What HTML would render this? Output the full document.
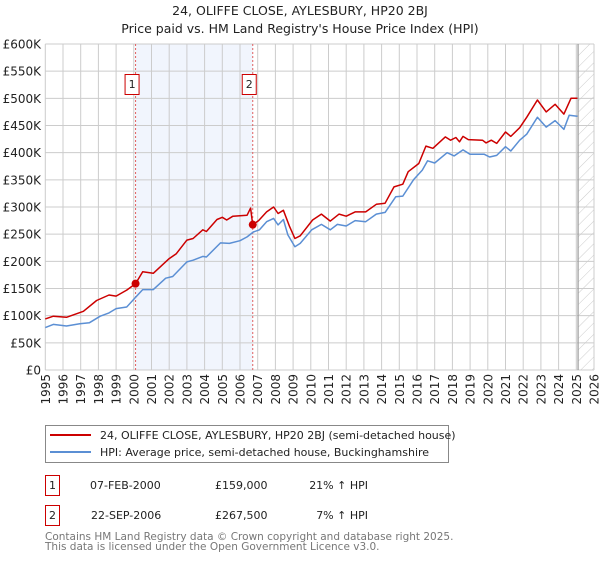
<!DOCTYPE html>
<html><head><meta charset="utf-8"><style>
body{margin:0;background:#fff;font-family:"Liberation Sans","DejaVu Sans",sans-serif;}
svg text{font-family:"DejaVu Sans","Liberation Sans",sans-serif;}
</style></head><body>
<svg id="chart" width="600" height="560" viewBox="0 0 600 560" xmlns="http://www.w3.org/2000/svg">
<text x="300" y="15" text-anchor="middle" font-size="12.5" fill="#222">24, OLIFFE CLOSE, AYLESBURY, HP20 2BJ</text>
<text x="300" y="33" text-anchor="middle" font-size="12.5" fill="#222">Price paid vs. HM Land Registry's House Price Index (HPI)</text>
<defs><pattern id="hatch" patternUnits="userSpaceOnUse" width="8" height="8" patternTransform="rotate(45)"><line x1="0" y1="0" x2="0" y2="8" stroke="#ccc" stroke-width="1"/></pattern></defs>
<g id="grid"></g>
<g id="marks"></g>
<g id="axes"></g>
<rect x="45.5" y="425.5" width="403" height="37" fill="#fff" stroke="#888"/>
<line x1="50" y1="435" x2="91" y2="435" stroke="#cc0000" stroke-width="2"/>
<text x="100" y="439" font-size="11" fill="#222">24, OLIFFE CLOSE, AYLESBURY, HP20 2BJ (semi-detached house)</text>
<line x1="50" y1="452" x2="91" y2="452" stroke="#5b8fd4" stroke-width="2"/>
<text x="100" y="456" font-size="11" fill="#222">HPI: Average price, semi-detached house, Buckinghamshire</text>
<rect x="45.5" y="475.5" width="14" height="20" fill="#fff" stroke="#cc0000"/>
<text x="52.5" y="489" text-anchor="middle" font-size="11" fill="#222">1</text>
<text x="90" y="489" font-size="11" fill="#222">07-FEB-2000</text>
<text x="215" y="489" font-size="11" fill="#222">£159,000</text>
<text x="368" y="489" text-anchor="end" font-size="11" fill="#222">21% ↑ HPI</text>
<rect x="45.5" y="505.5" width="14" height="20" fill="#fff" stroke="#cc0000"/>
<text x="52.5" y="519" text-anchor="middle" font-size="11" fill="#222">2</text>
<text x="91" y="519" font-size="11" fill="#222">22-SEP-2006</text>
<text x="215" y="519" font-size="11" fill="#222">£267,500</text>
<text x="368" y="519" text-anchor="end" font-size="11" fill="#222">7% ↑ HPI</text>
<text x="45" y="540" font-size="10.5" fill="#777">Contains HM Land Registry data © Crown copyright and database right 2025.</text>
<text x="45" y="550" font-size="10.5" fill="#777">This data is licensed under the Open Government Licence v3.0.</text>
</svg>
<script>
const hpiYears=[1995,1995.45,1996.2,1996.95,1997.5,1998.1,1998.6,1999.0,1999.6,2000.05,2000.5,2001.1,2001.8,2002.2,2003.0,2003.35,2003.9,2004.1,2004.9,2005.4,2006.0,2006.4,2006.75,2007.1,2007.5,2007.9,2008.15,2008.45,2008.7,2009.1,2009.4,2010.05,2010.6,2011.1,2011.5,2012.0,2012.5,2013.1,2013.7,2014.2,2014.8,2015.2,2015.8,2016.3,2016.6,2017.0,2017.7,2018.1,2018.6,2019.0,2019.8,2020.1,2020.5,2021.0,2021.3,2021.8,2022.2,2022.8,2023.3,2023.8,2024.3,2024.6,2025.06];
const hpiValues=[78,84,81,85,87,99,105,113,116,132,148,148,169,172,199,202,209,208,234,233,238,245,254,258,273,279,267,277,249,227,233,258,268,258,268,265,275,273,287,290,319,320,350,368,385,381,400,394,405,397,397,392,395,411,403,423,434,465,447,459,443,469,467];
const priceYears=[1995,1995.45,1996.2,1997.15,1997.9,1998.6,1999.0,1999.6,2000.1,2000.5,2001.1,2002.0,2002.4,2003.0,2003.35,2003.9,2004.1,2004.7,2005.0,2005.25,2005.6,2006.4,2006.6,2006.72,2007.05,2007.5,2007.9,2008.15,2008.45,2008.8,2009.1,2009.4,2010.1,2010.6,2011.1,2011.6,2012.0,2012.5,2013.1,2013.7,2014.2,2014.7,2015.2,2015.5,2016.1,2016.5,2016.9,2017.6,2017.9,2018.2,2018.4,2018.6,2018.9,2019.7,2019.9,2020.2,2020.5,2021.0,2021.3,2021.8,2022.2,2022.8,2023.3,2023.8,2024.3,2024.7,2025.06];
const priceValues=[94,99,97,108,128,138,136,147,159,181,178,205,214,239,242,258,255,277,281,276,283,285,298,267.5,275,291,300,288,294,264,242,247,276,287,274,287,283,291,291,305,307,337,342,365,380,412,408,429,423,428,420,430,424,423,418,423,417,438,430,446,465,497,475,489,471,500,500];
const saleYears=[2000.1,2006.72];
const saleValues=[159,267.5];
const saleLabels=["1","2"];
const yTicks=[0,50,100,150,200,250,300,350,400,450,500,550,600];
const xTicks=[1995,1996,1997,1998,1999,2000,2001,2002,2003,2004,2005,2006,2007,2008,2009,2010,2011,2012,2013,2014,2015,2016,2017,2018,2019,2020,2021,2022,2023,2024,2025,2026];
const dataEnd=2025.1;

const X0=45.3,X1=594,Y0=370,Y1=44;
const xs=y=>X0+(y-1995)/(2026-1995)*(X1-X0);
const ys=v=>Y0-v/600*(Y0-Y1);
const NS="http://www.w3.org/2000/svg";
function mk(parent,tag,attrs){const e=document.createElementNS(NS,tag);for(const k in attrs)e.setAttribute(k,attrs[k]);document.getElementById(parent).appendChild(e);return e;}

let r=mk('grid','rect',{x:xs(saleYears[0]),y:Y1,width:xs(saleYears[1])-xs(saleYears[0]),height:Y0-Y1,fill:'#eef3fc',opacity:0.8});


let h=mk('grid','rect',{x:xs(dataEnd),y:Y1,width:X1-xs(dataEnd),height:Y0-Y1,fill:'url(#hatch)'});


yTicks.forEach(v=>{
  const l=mk('grid','line',{x1:X0,x2:X1,y1:ys(v),y2:ys(v),stroke:'#ccc','stroke-width':1});
  
  
  const t=mk('axes','text',{x:41,y:ys(v)+4.5,'text-anchor':'end','font-size':12,fill:'#222'});
  t.textContent=v===0?'£0':'£'+v+'K';
  
  
});
xTicks.forEach(y=>{
  const l=mk('grid','line',{x1:xs(y),x2:xs(y),y1:Y1,y2:Y0,stroke:'#ccc','stroke-width':1});
  
  
  const t=mk('axes','text',{x:0,y:0,'text-anchor':'end','font-size':12,fill:'#222',transform:`translate(${xs(y)+4.5},374) rotate(-90)`});
  t.textContent=y;
  
  
});
let e=mk('grid','line',{x1:xs(dataEnd),x2:xs(dataEnd),y1:Y1,y2:Y0,stroke:'#999','stroke-width':1.2});


saleYears.forEach((y,i)=>{
  const l=mk('marks','line',{x1:xs(y),x2:xs(y),y1:Y1,y2:Y0,stroke:'#e06060','stroke-width':1,'stroke-dasharray':'2,2'});
  
  
});
function path(xa,va,color,name){
  const d=xa.map((y,i)=>(i?'L':'M')+xs(y).toFixed(1)+','+ys(va[i]).toFixed(1)).join('');
  const p=mk('marks','path',{d:d,fill:'none',stroke:color,'stroke-width':1.5,'stroke-linejoin':'round'});
  
  
}
path(hpiYears,hpiValues,'#5b8fd4','hpi-line');
path(priceYears,priceValues,'#cc0000','price-line');
saleYears.forEach((y,i)=>{
  const c=mk('marks','circle',{cx:xs(y),cy:ys(saleValues[i]),r:4,fill:'#cc0000'});
  
  
  const b=mk('marks','rect',{x:xs(y)-10.5,y:74.5,width:14,height:20,fill:'#fff',stroke:'#cc0000'});
  
  
  const t=mk('marks','text',{x:xs(y)-3.5,y:88,'text-anchor':'middle','font-size':11,fill:'#222'});
  t.textContent=saleLabels[i];
  
  
});
</script>
</body></html>
